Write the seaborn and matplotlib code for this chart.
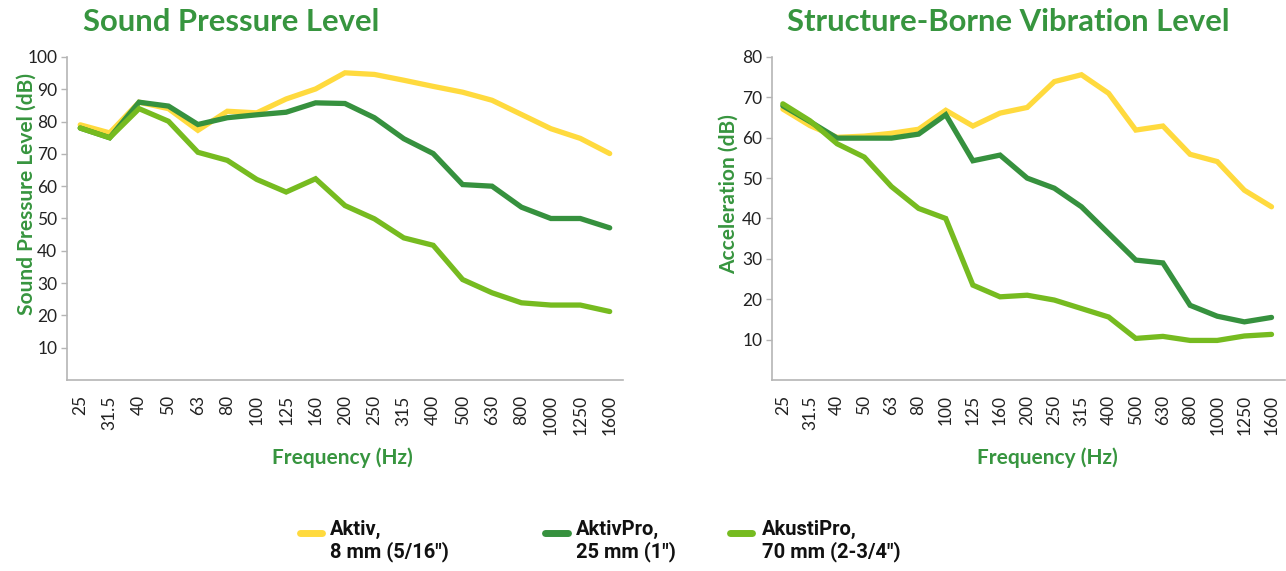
import numpy as np
import pandas as pd
import seaborn as sns
import matplotlib.pyplot as plt
from matplotlib.lines import Line2D

# dados
freqs = ['25', '31.5', '40', '50', '63', '80', '100', '125', '160', '200',
         '250', '315', '400', '500', '630', '800', '1000', '1250', '1600']

spl_aktiv = [79, 76.5, 86, 84, 77.3, 83.2, 82.7, 87, 90.1, 95.1,
             94.6, 92.8, 90.9, 89.1, 86.6, 82.2, 77.8, 74.8, 70.1]
spl_aktivpro = [78, 75, 86, 84.8, 79.1, 81.2, 82.1, 82.9, 85.8, 85.6,
                81.2, 74.7, 70.1, 60.5, 60, 53.5, 50, 50, 47.1]
spl_akustipro = [78, 75, 84, 80.1, 70.5, 68, 62.1, 58.2, 62.3, 54,
                 49.9, 44, 41.7, 31.1, 27, 23.9, 23.2, 23.2, 21.2]

vib_aktiv = [67.1, 63, 60.1, 60.4, 61.1, 62.1, 66.8, 62.9, 66.1, 67.5,
             73.9, 75.6, 71, 61.9, 62.9, 55.9, 54.1, 47, 42.9]
vib_aktivpro = [67.9, 64, 59.9, 59.9, 59.9, 60.9, 65.7, 54.3, 55.7, 50,
                47.5, 42.9, 36.3, 29.7, 29, 18.5, 15.8, 14.4, 15.5]
vib_akustipro = [68.4, 64.2, 58.5, 55.2, 47.9, 42.5, 40, 23.5, 20.6, 21,
                 19.8, 17.7, 15.6, 10.3, 10.8, 9.8, 9.8, 10.9, 11.3]

series_names = ['Aktiv', 'AktivPro', 'AkustiPro']
legend_labels = ['Aktiv,\n8 mm (5/16")', 'AktivPro,\n25 mm (1")', 'AkustiPro,\n70 mm (2-3/4")']

colors = {'Aktiv': '#FFDA3E', 'AktivPro': '#36913E', 'AkustiPro': '#76BB20'}
green_txt = '#37953F'


def long_df(a, b, c):
    return pd.DataFrame({
        'freq': freqs * 3,
        'valor': a + b + c,
        'serie': ['Aktiv'] * len(freqs) + ['AktivPro'] * len(freqs) + ['AkustiPro'] * len(freqs),
    })


df_spl = long_df(spl_aktiv, spl_aktivpro, spl_akustipro)
df_vib = long_df(vib_aktiv, vib_aktivpro, vib_akustipro)

sns.set_theme(style="white")
plt.rcParams['font.family'] = ['Lato', 'DejaVu Sans']

fig = plt.figure(figsize=(12.86, 5.71), dpi=100)
ax1 = fig.add_axes([0.0521, 0.3345, 0.4323, 0.5657])
ax2 = fig.add_axes([0.6003, 0.3345, 0.399, 0.5657])


def estilo(ax, df, ymax, ylabel, xlab_x, ylab_x, xlim):
    sns.lineplot(data=df, x='freq', y='valor', hue='serie', palette=colors,
                 hue_order=series_names, linewidth=3.8, sort=False,
                 legend=False, ax=ax, solid_capstyle='round', solid_joinstyle='miter')
    ax.set_ylim(0, ymax)
    ax.set_xlim(*xlim)
    ax.set_yticks(np.arange(10, ymax + 1, 10))
    for s in ['top', 'right']:
        ax.spines[s].set_visible(False)
    for s in ['left', 'bottom']:
        ax.spines[s].set_color('#b5b5b5')
        ax.spines[s].set_linewidth(1.2)
    ax.tick_params(axis='y', left=True, length=4, width=1, color='#b5b5b5',
                   labelsize=12.5, labelcolor='#222222', pad=3)
    ax.tick_params(axis='x', bottom=False, labelsize=12.5, labelcolor='#222222',
                   labelrotation=90, pad=5)
    ax.set_xlabel('Frequency (Hz)', fontsize=15, fontweight='bold', color=green_txt)
    ax.set_ylabel(ylabel, fontsize=15, fontweight='bold', color=green_txt)
    ax.xaxis.set_label_coords(xlab_x, -0.21)
    ax.yaxis.set_label_coords(ylab_x, 0.576)


estilo(ax1, df_spl, 100, 'Sound Pressure Level (dB)', 0.496, -0.055, (-0.45, 18.45))
estilo(ax2, df_vib, 80, 'Acceleration (dB)', 0.536, -0.064, (-0.4, 18.5))

fig.text(0.0645, 0.9615, 'Sound Pressure Level', fontsize=22.3, fontweight='bold',
         color=green_txt, ha='left', va='center')
fig.text(0.612, 0.9615, 'Structure-Borne Vibration Level', fontsize=22.3, fontweight='bold',
         color=green_txt, ha='left', va='center')

# legenda montada a mao: traco alinhado com a primeira linha do texto
leg_handle_x = [(0.2333, 0.2504), (0.4238, 0.4417), (0.5677, 0.5848)]
leg_text_x = [0.2566, 0.4479, 0.5925]
for s, lab, (h0, h1), tx in zip(series_names, legend_labels, leg_handle_x, leg_text_x):
    fig.add_artist(Line2D([h0, h1], [0.0666, 0.0666], transform=fig.transFigure,
                          color=colors[s], linewidth=5, solid_capstyle='round'))
    fig.text(tx, 0.0895, lab, ha='left', va='top', fontsize=14.5, fontweight='bold',
             family=['Roboto', 'DejaVu Sans'], color='#111111', linespacing=1.15)

fig.savefig('out.png', dpi=100)
